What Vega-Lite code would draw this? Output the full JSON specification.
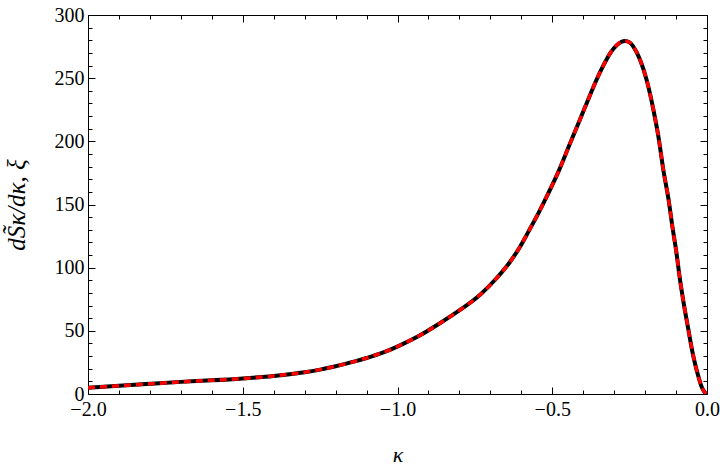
{
  "$schema": "https://vega.github.io/schema/vega-lite/v6.json",
  "width": 619,
  "height": 379,
  "autosize": "none",
  "padding": {"left": 88, "top": 15, "right": 13, "bottom": 82},
  "background": "white",
  "config": {
    "view": {"stroke": null},
    "axis": {
      "domainColor": "black",
      "domainWidth": 1,
      "tickColor": "black",
      "tickWidth": 1,
      "labelFont": "'Liberation Serif', 'DejaVu Serif', serif",
      "labelFontSize": 20,
      "labelColor": "black",
      "titleFont": "'Liberation Serif', 'DejaVu Serif', serif",
      "titleFontSize": 22,
      "titleFontStyle": "italic",
      "titleFontWeight": "normal",
      "titleColor": "black",
      "grid": false
    }
  },
  "data": {
    "values": [
      {"k": -2.0, "v": 5.0},
      {"k": -1.9, "v": 6.5},
      {"k": -1.8, "v": 8.1},
      {"k": -1.7, "v": 9.6},
      {"k": -1.6, "v": 10.8},
      {"k": -1.5, "v": 12.3},
      {"k": -1.4, "v": 14.3},
      {"k": -1.3, "v": 17.2},
      {"k": -1.246, "v": 19.5},
      {"k": -1.2, "v": 22.0},
      {"k": -1.138, "v": 25.8},
      {"k": -1.1, "v": 28.5},
      {"k": -1.05, "v": 32.5},
      {"k": -0.992, "v": 38.5},
      {"k": -0.927, "v": 46.5},
      {"k": -0.863, "v": 56.0},
      {"k": -0.798, "v": 66.5},
      {"k": -0.733, "v": 78.6},
      {"k": -0.68, "v": 91.6},
      {"k": -0.636, "v": 104.7},
      {"k": -0.604, "v": 116.6},
      {"k": -0.577, "v": 128.5},
      {"k": -0.545, "v": 143.0},
      {"k": -0.518, "v": 156.2},
      {"k": -0.48, "v": 176.0},
      {"k": -0.443, "v": 198.0},
      {"k": -0.41, "v": 217.5},
      {"k": -0.384, "v": 233.0},
      {"k": -0.367, "v": 243.0},
      {"k": -0.34, "v": 257.5},
      {"k": -0.313, "v": 269.7},
      {"k": -0.29, "v": 276.5},
      {"k": -0.265, "v": 279.5},
      {"k": -0.25, "v": 278.3},
      {"k": -0.238, "v": 275.0},
      {"k": -0.216, "v": 264.4},
      {"k": -0.195, "v": 248.6},
      {"k": -0.173, "v": 224.8},
      {"k": -0.157, "v": 203.7},
      {"k": -0.141, "v": 177.3},
      {"k": -0.124, "v": 153.6},
      {"k": -0.111, "v": 131.2},
      {"k": -0.1, "v": 114.0},
      {"k": -0.087, "v": 90.0},
      {"k": -0.074, "v": 70.0},
      {"k": -0.06, "v": 50.7},
      {"k": -0.05, "v": 37.0},
      {"k": -0.039, "v": 24.3},
      {"k": -0.028, "v": 14.0},
      {"k": -0.017, "v": 5.5},
      {"k": -0.008, "v": 1.5},
      {"k": 0.0, "v": 0.0}
    ]
  },
  "layer": [
    {
      "mark": {"type": "line", "color": "black", "strokeWidth": 4, "interpolate": "monotone", "clip": true},
      "encoding": {
        "x": {
          "field": "k", "type": "quantitative",
          "scale": {"domain": [-2, 0], "nice": false, "zero": false},
          "axis": {
            "orient": "bottom",
            "title": "κ",
            "titlePadding": 22,
            "values": [-2, -1.9, -1.8, -1.7, -1.6, -1.5, -1.4, -1.3, -1.2, -1.1, -1, -0.9, -0.8, -0.7, -0.6, -0.5, -0.4, -0.3, -0.2, -0.1, 0],
            "format": ".1f",
            "labelExpr": "abs(datum.value*2 - round(datum.value*2)) < 0.001 ? datum.label : ''",
            "tickSize": {"condition": {"test": "abs(datum.value*2 - round(datum.value*2)) < 0.001", "value": -7}, "value": -4},
            "labelPadding": 12,
            "labelFlush": false,
            "labelOverlap": false
          }
        },
        "y": {
          "field": "v", "type": "quantitative",
          "scale": {"domain": [0, 300], "nice": false},
          "axis": {
            "orient": "left",
            "title": "dS̃κ/dκ, ξ",
            "titleFontSize": 25,
            "titlePadding": 25,
            "values": [0, 10, 20, 30, 40, 50, 60, 70, 80, 90, 100, 110, 120, 130, 140, 150, 160, 170, 180, 190, 200, 210, 220, 230, 240, 250, 260, 270, 280, 290, 300],
            "labelExpr": "datum.value % 50 == 0 ? datum.label : ''",
            "tickSize": {"condition": {"test": "datum.value % 50 == 0", "value": -7}, "value": -4},
            "labelPadding": 11,
            "labelFlush": false,
            "labelOverlap": false
          }
        }
      }
    },
    {
      "mark": {"type": "line", "color": "#ff0000", "strokeWidth": 3.5, "strokeDash": [7, 5], "interpolate": "monotone", "clip": true},
      "encoding": {
        "x": {
          "field": "k", "type": "quantitative",
          "axis": {
            "orient": "top",
            "title": null,
            "labels": false,
            "values": [-2, -1.9, -1.8, -1.7, -1.6, -1.5, -1.4, -1.3, -1.2, -1.1, -1, -0.9, -0.8, -0.7, -0.6, -0.5, -0.4, -0.3, -0.2, -0.1, 0],
            "tickSize": {"condition": {"test": "abs(datum.value*2 - round(datum.value*2)) < 0.001", "value": -7}, "value": -4}
          }
        },
        "y": {
          "field": "v", "type": "quantitative",
          "axis": {
            "orient": "right",
            "title": null,
            "labels": false,
            "values": [0, 10, 20, 30, 40, 50, 60, 70, 80, 90, 100, 110, 120, 130, 140, 150, 160, 170, 180, 190, 200, 210, 220, 230, 240, 250, 260, 270, 280, 290, 300],
            "tickSize": {"condition": {"test": "datum.value % 50 == 0", "value": -7}, "value": -4}
          }
        }
      }
    }
  ],
  "resolve": {"axis": {"x": "independent", "y": "independent"}}
}
